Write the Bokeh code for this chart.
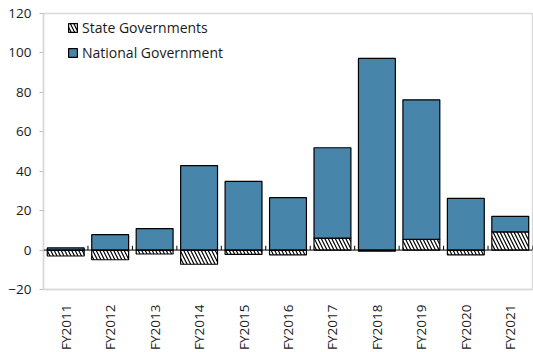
import numpy as np
from bokeh.plotting import figure
from bokeh.models import ColumnDataSource, FixedTicker, Legend, LegendItem, Span
from bokeh.embed import file_html
from bokeh.resources import INLINE

# Fiscal years and contributions (stacked: national sits on top of positive state values)
years = ["FY2011", "FY2012", "FY2013", "FY2014", "FY2015", "FY2016",
         "FY2017", "FY2018", "FY2019", "FY2020", "FY2021"]
state = [-3.0, -4.9, -2.0, -7.2, -2.2, -2.4, 6.1, -0.6, 5.4, -2.4, 9.2]
national = [1.1, 7.8, 10.9, 42.8, 34.8, 26.6, 45.8, 97.2, 70.8, 26.2, 7.9]
y_ticks = [-20, 0, 20, 40, 60, 80, 100, 120]

x = np.arange(len(years)) + 0.5
state_arr = np.array(state)
nat_bottom = np.maximum(state_arr, 0)
nat_top = nat_bottom + np.array(national)

src = ColumnDataSource(dict(x=x, state=state_arr, zero=np.zeros(len(x)),
                            nb=nat_bottom, nt=nat_top))

FONT = "Open Sans"
TXT = "#1a1a1a"

p = figure(width=533, height=352, output_backend="svg", toolbar_location=None,
           x_range=(0, len(years)), y_range=(-20, 120),
           min_border_left=43, min_border_right=1, min_border_top=13,
           min_border_bottom=63)
p.background_fill_color = "white"
p.border_fill_color = "white"
p.outline_line_color = "#d9d9d9"
p.outline_line_width = 1.5
p.xgrid.visible = False
p.ygrid.visible = False

bar_w = 0.83
r_state = p.vbar(x="x", bottom="zero", top="state", width=bar_w, source=src,
                 fill_color="white", line_color="black", line_width=1.2,
                 hatch_pattern="\\", hatch_color="black", hatch_scale=7,
                 hatch_weight=1.2)
r_nat = p.vbar(x="x", bottom="nb", top="nt", width=bar_w, source=src,
               fill_color="#4a87ad", line_color="black", line_width=1.2,
               hatch_pattern="\\", hatch_color="#3d789e", hatch_alpha=0.45,
               hatch_scale=4, hatch_weight=0.8)

# zero baseline with short ticks between the categories
p.add_layout(Span(location=0, dimension="width", line_color="black", line_width=1))
bounds = np.arange(len(years) + 1)
p.segment(x0=bounds, y0=np.zeros(len(bounds)), x1=bounds,
          y1=np.full(len(bounds), 2.2), line_color="black", line_width=1)

# y axis
p.yaxis.ticker = FixedTicker(ticks=y_ticks)
p.yaxis.axis_line_color = "#d9d9d9"
p.yaxis.axis_line_width = 1.5
p.yaxis.major_tick_line_color = "#bfbfbf"
p.yaxis.major_tick_out = 4
p.yaxis.major_tick_in = 0
p.yaxis.minor_tick_line_color = None
p.yaxis.major_label_text_font = FONT
p.yaxis.major_label_text_font_size = "13.5px"
p.yaxis.major_label_text_color = TXT
p.yaxis.major_label_standoff = 8

# x axis with year labels, reading upward
p.xaxis.ticker = FixedTicker(ticks=list(x))
p.xaxis.major_label_overrides = {float(v): years[i] for i, v in enumerate(x)}
p.xaxis.major_label_orientation = np.pi / 2
p.xaxis.axis_line_color = "#d9d9d9"
p.xaxis.axis_line_width = 1.5
p.xaxis.major_tick_line_color = None
p.xaxis.minor_tick_line_color = None
p.xaxis.major_label_text_font = FONT
p.xaxis.major_label_text_font_size = "13.5px"
p.xaxis.major_label_text_color = TXT
p.xaxis.major_label_standoff = 9

legend = Legend(items=[LegendItem(label="State Governments", renderers=[r_state]),
                       LegendItem(label="National Government", renderers=[r_nat])],
                location=(24, 227))
legend.label_text_font = FONT
legend.label_text_font_size = "14px"
legend.label_text_color = TXT
legend.border_line_color = None
legend.background_fill_alpha = 0
legend.glyph_width = 11
legend.glyph_height = 11
legend.spacing = 6
legend.label_standoff = 4
legend.padding = 0
legend.margin = 0
legend.label_height = 14
p.add_layout(legend)

open("out.html", "w").write(file_html(p, INLINE))
